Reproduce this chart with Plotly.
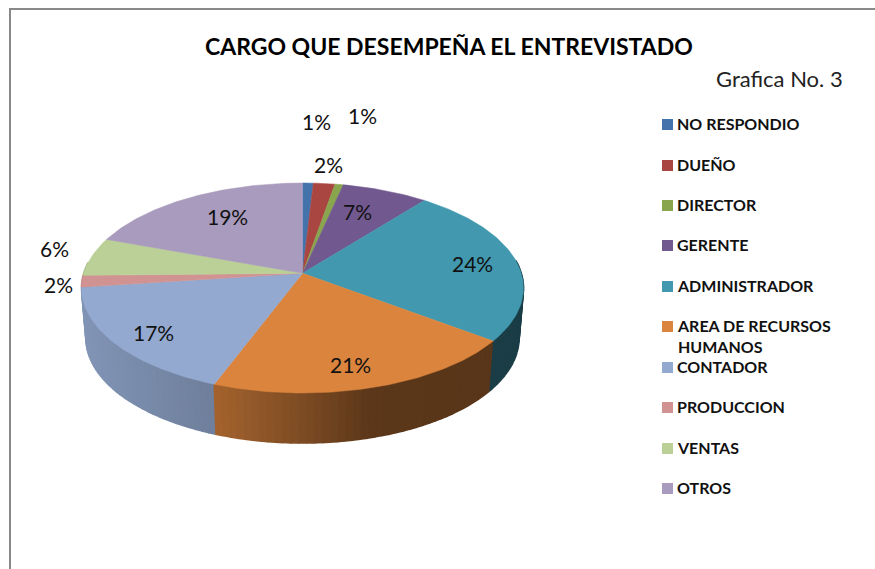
import numpy as np
import plotly.graph_objects as go

# ---- data ----
categories = ["NO RESPONDIO", "DUEÑO", "DIRECTOR", "GERENTE", "ADMINISTRADOR",
              "AREA DE RECURSOS<br>HUMANOS", "CONTADOR", "PRODUCCION", "VENTAS", "OTROS"]
values = [0.9, 1.8, 0.7, 7.2, 24.7, 20.4, 17.2, 1.8, 5.9, 19.4]
value_labels = ["1%", "2%", "1%", "7%", "24%", "21%", "17%", "2%", "6%", "19%"]
title_text = "CARGO QUE DESEMPEÑA EL ENTREVISTADO"
subtitle_text = "Grafica No. 3"

# ---- styles / layout (pixels) ----
colors = [(68, 114, 170), (170, 70, 66), (137, 165, 78), (113, 88, 143), (65, 152, 175),
          (219, 132, 61), (147, 169, 207), (209, 147, 146), (186, 208, 150), (169, 155, 189)]
label_xy = [(316, 121), (328, 164), (362, 115), (357, 211), (472, 263),
            (350, 364), (153, 332), (58, 284), (54, 248), (227, 216)]
legend_y = [124.5, 165.5, 205.5, 245.5, 286.5, 326.5, 367.5, 407.5, 448.5, 488.5]
CX, CY, RX, RY, DEPTH, TILT, SHRINK = 302.5, 288, 221, 105, 50, 0.14, 0.98
FONT = "Lato, Carlito, 'Open Sans', sans-serif"


def project(frac):
    """Position on the perspective-tilted disc for a cumulative fraction of the total."""
    th = 2 * np.pi * np.asarray(frac, dtype=float)
    u, v = np.sin(th), np.cos(th)
    d = 1 + TILT * v
    return (u * np.sqrt(1 - TILT ** 2) / d, (v + TILT) / d)


def to_px(u, v, down=0.0, xs=1.0):
    return CX + RX * xs * u, CY - RY * v + down


def shade(u):
    return np.interp(u, [-1, -0.4, 0, 0.3, 1], [0.88, 0.75, 0.57, 0.42, 0.40])


def css(c, k=1.0):
    return "rgb(%d,%d,%d)" % tuple(int(round(x * k)) for x in c)


total = sum(values)
edges = np.concatenate([[0], np.cumsum(values)]) / total

fig = go.Figure()

# side wall: thin strips, back to front
strips = []
for i in range(len(values)):
    n = max(1, int(np.ceil((edges[i + 1] - edges[i]) / 0.005)))
    f = np.linspace(edges[i], edges[i + 1], n + 1)
    for a, b in zip(f[:-1], f[1:]):
        um, vm = project((a + b) / 2)
        if vm < 0.25:
            strips.append((vm, a, b, um, colors[i]))
strips.sort(key=lambda s: -s[0])
for _, a, b, um, col in strips:
    ua, va = project([a, b])
    x1, y1 = to_px(ua, va)
    x2, y2 = to_px(ua[::-1], va[::-1], DEPTH, SHRINK)
    c = css(col, shade(um))
    fig.add_trace(go.Scatter(x=np.r_[x1, x2], y=np.r_[y1, y2], mode="lines", fill="toself",
                             fillcolor=c, line=dict(color=c, width=1.6),
                             hoverinfo="skip", showlegend=False))

# top surface
ax, ay = CX, CY - RY * TILT
for i, col in enumerate(colors):
    n = max(4, int((edges[i + 1] - edges[i]) * 360))
    u, v = project(np.linspace(edges[i], edges[i + 1], n + 1))
    x, y = to_px(u, v)
    fig.add_trace(go.Scatter(x=np.r_[ax, x, ax], y=np.r_[ay, y, ay], mode="lines", fill="toself",
                             fillcolor=css(col), line=dict(color=css(col), width=0.5),
                             name=categories[i].replace("<br>", " "),
                             hoverinfo="name", showlegend=False))

# legend keys
fig.add_trace(go.Scatter(x=[667.5] * len(categories), y=legend_y, mode="markers",
                         marker=dict(symbol="square", size=11, color=[css(c) for c in colors], line=dict(width=0)),
                         hoverinfo="skip", showlegend=False))

ann = []
for (x, y), t in zip(label_xy, value_labels):
    ann.append(dict(x=x, y=y, text=t, showarrow=False, xanchor="center", yanchor="middle",
                    font=dict(family=FONT, size=21, color="#111")))
for y, t in zip(legend_y, categories):
    ann.append(dict(x=675, y=y - 1.5, text="<b>%s</b>" % t, showarrow=False, xanchor="left",
                    yanchor="top" if "<br>" in t else "middle", align="left",
                    yshift=11 if "<br>" in t else 0,
                    font=dict(family=FONT, size=16, color="#111")))
ann.append(dict(x=449, y=46, text="<b>%s</b>" % title_text, showarrow=False, xanchor="center",
                yanchor="middle", font=dict(family=FONT, size=23, color="#000")))
ann.append(dict(x=779, y=78, text=subtitle_text, showarrow=False, xanchor="center",
                yanchor="middle", font=dict(family=FONT, size=22, color="#222")))

fig.update_layout(
    width=875, height=569, margin=dict(l=0, r=0, t=0, b=0),
    paper_bgcolor="white", plot_bgcolor="white", showlegend=False,
    xaxis=dict(range=[0, 875], visible=False, fixedrange=True),
    yaxis=dict(range=[569, 0], visible=False, fixedrange=True),
    annotations=ann,
    shapes=[
        dict(type="line", x0=10, x1=10, y0=8, y1=569, line=dict(color="#898989", width=2)),
        dict(type="line", x0=9, x1=875, y0=9, y1=9, line=dict(color="#898989", width=2)),
    ],
)
fig.write_html("out.html", config=dict(displayModeBar=False),
               post_script="document.body.style.margin='0';document.body.style.overflow='hidden';")
